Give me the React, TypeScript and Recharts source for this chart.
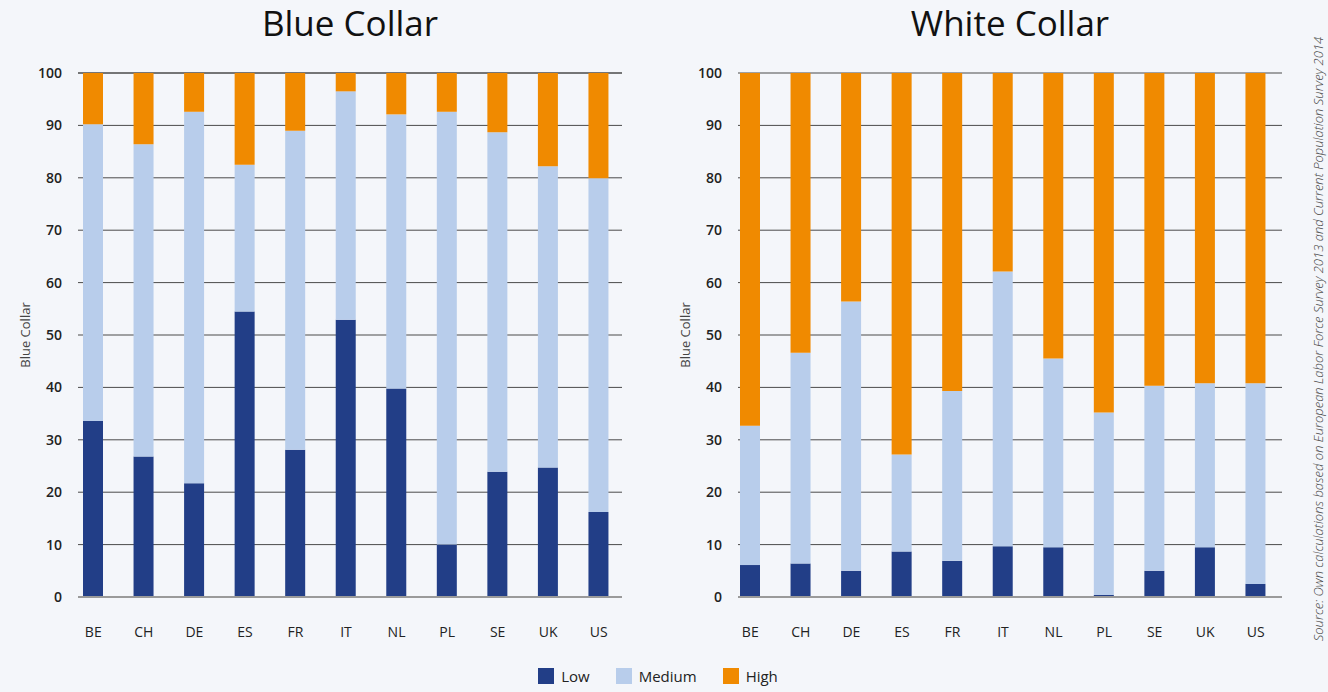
import { Bar, BarChart, CartesianGrid, XAxis, YAxis } from "recharts";

const countries = ["BE", "CH", "DE", "ES", "FR", "IT", "NL", "PL", "SE", "UK", "US"];

const blueLow = [33.6, 26.8, 21.7, 54.5, 28.1, 52.9, 39.8, 10.0, 23.9, 24.7, 16.2];
const blueMedium = [56.6, 59.6, 70.9, 28.0, 60.9, 43.6, 52.3, 82.6, 64.8, 57.5, 63.7];
const blueHigh = [9.8, 13.6, 7.4, 17.5, 11.0, 3.5, 7.9, 7.4, 11.3, 17.8, 20.1];

const whiteLow = [6.1, 6.4, 5.0, 8.7, 6.9, 9.7, 9.5, 0.4, 5.0, 9.5, 2.5];
const whiteMedium = [26.6, 40.2, 51.4, 18.5, 32.4, 52.4, 36.0, 34.8, 35.3, 31.3, 38.3];
const whiteHigh = [67.3, 53.4, 43.6, 72.8, 60.7, 37.9, 54.5, 64.8, 59.7, 59.2, 59.2];

const yTicks = [0, 10, 20, 30, 40, 50, 60, 70, 80, 90, 100];

const LOW = "#223e87";
const MEDIUM = "#b8cdeb";
const HIGH = "#f08a00";
const FONT = "'Open Sans', 'Noto Sans', sans-serif";

function build(low: number[], medium: number[], high: number[]) {
  return countries.map((c, i) => ({ c, low: low[i], medium: medium[i], high: high[i] }));
}

function Panel({
  data,
  title,
  left,
  pad,
}: {
  data: ReturnType<typeof build>;
  title: string;
  left: number;
  pad: { left: number; right: number };
}) {
  return (
    <div style={{ position: "absolute", left, top: 0, width: 660, height: 692 }}>
      <div
        style={{
          position: "absolute",
          top: 0,
          left: 0,
          width: 700,
          textAlign: "center",
          fontSize: 35,
          lineHeight: "46px",
          color: "#111",
        }}
      >
        {title}
      </div>
      <BarChart
        width={660}
        height={692}
        data={data}
        margin={{ top: 73, right: 38, bottom: 65, left: 10 }}
        barSize={20}
      >
        <CartesianGrid vertical={false} stroke="#4a4a4a" strokeWidth={1} />
        <XAxis
          dataKey="c"
          padding={pad}
          axisLine={{ stroke: "#9a9a9a", strokeWidth: 2 }}
          tickLine={false}
          tickMargin={24}
          tick={{ fill: "#222", fontSize: 14, fontFamily: FONT }}
          interval={0}
        />
        <YAxis
          width={68}
          domain={[0, 100]}
          ticks={yTicks}
          interval={0}
          axisLine={false}
          tickLine={false}
          tickMargin={10}
          tick={{ fill: "#222", fontSize: 14, fontFamily: FONT, fontWeight: 600 }}
          label={{
            value: "Blue Collar",
            angle: -90,
            position: "insideLeft",
            offset: 15,
            style: { textAnchor: "middle", fill: "#444", fontSize: 13, fontFamily: FONT },
          }}
        />
        <Bar dataKey="low" stackId="s" fill={LOW} isAnimationActive={false} />
        <Bar dataKey="medium" stackId="s" fill={MEDIUM} isAnimationActive={false} />
        <Bar dataKey="high" stackId="s" fill={HIGH} isAnimationActive={false} />
      </BarChart>
    </div>
  );
}

const legendItems = [
  { name: "Low", color: LOW },
  { name: "Medium", color: MEDIUM },
  { name: "High", color: HIGH },
];

export default function App() {
  return (
    <div
      style={{
        position: "absolute",
        left: 0,
        top: 0,
        width: 1328,
        height: 692,
        background: "#f4f6fa",
        fontFamily: FONT,
        overflow: "hidden",
      }}
    >
      <Panel
        data={build(blueLow, blueMedium, blueHigh)}
        title="Blue Collar"
        left={0}
        pad={{ left: -10, right: -2 }}
      />
      <Panel
        data={build(whiteLow, whiteMedium, whiteHigh)}
        title="White Collar"
        left={660}
        pad={{ left: -13, right: 1 }}
      />
      <div
        style={{
          position: "absolute",
          top: 666,
          left: -6,
          width: 1328,
          display: "flex",
          justifyContent: "center",
          gap: 26,
          fontSize: 15,
          color: "#222",
        }}
      >
        {legendItems.map((it) => (
          <div key={it.name} style={{ display: "flex", alignItems: "center", gap: 7 }}>
            <span style={{ width: 16, height: 16, background: it.color, display: "inline-block" }} />
            <span>{it.name}</span>
          </div>
        ))}
      </div>
      <div
        style={{
          position: "absolute",
          left: 1318,
          top: 339,
          transform: "translate(-50%, -50%) rotate(-90deg)",
          whiteSpace: "nowrap",
          fontSize: 13,
          fontStyle: "italic",
          fontWeight: 300,
          color: "#444",
        }}
      >
        Source: Own calculations based on European Labor Force Survey 2013 and Current Population Survey 2014
      </div>
    </div>
  );
}
